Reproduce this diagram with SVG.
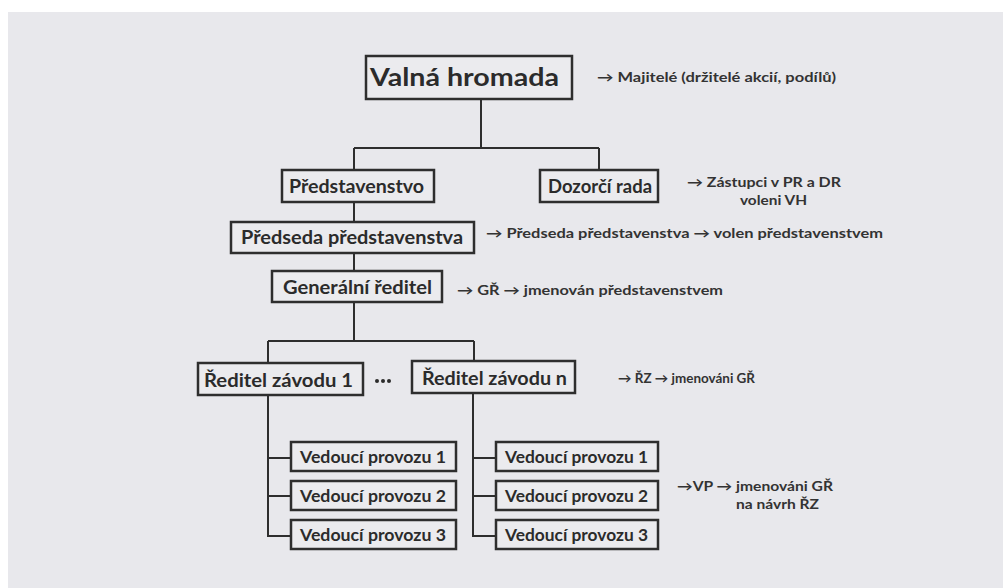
<svg xmlns="http://www.w3.org/2000/svg" width="1003" height="588" viewBox="0 0 1003 588">
  <style>
    .box { fill: #ebebee; stroke: #2e2e2e; stroke-width: 2.5; }
    .lbl { font-family: Lato, "Liberation Sans", "DejaVu Sans", sans-serif; font-weight: bold; fill: #2b2b2b; }
    .note { font-family: Lato, "Liberation Sans", "DejaVu Sans", sans-serif; font-weight: bold; font-size: 13px; fill: #333; }
    .wire { fill: none; stroke: #2e2e2e; stroke-width: 2; }
  </style>
  <!-- paper -->
  <rect x="0" y="0" width="1003" height="588" fill="#ffffff"/>
  <rect x="8" y="12" width="995" height="576" fill="#e8e8ec"/>

  <!-- connectors -->
  <g id="connectors" class="wire">
    <path d="M481 98 V148 M354 148 H599 M354 148 V170 M599 148 V170"/>
    <path d="M354 202 V222"/>
    <path d="M354 253 V271"/>
    <path d="M354 302 V341 M268 341 H474 M268 341 V363 M474 341 V361"/>
    <path d="M268 395 V536 H291 M268 458 H291 M268 496 H291"/>
    <path d="M473 393 V536 H496 M473 458 H496 M473 496 H496"/>
  </g>

  <g id="valna-hromada">
    <rect class="box" x="366" y="56" width="206" height="43"/>
    <text class="lbl" x="370" y="86" font-size="24" textLength="189" lengthAdjust="spacingAndGlyphs">Valná hromada</text>
  </g>
  <g id="predstavenstvo">
    <rect class="box" x="282" y="170" width="152" height="32"/>
    <text class="lbl" x="289" y="193" font-size="19" textLength="135" lengthAdjust="spacingAndGlyphs">Představenstvo</text>
  </g>
  <g id="dozorci-rada">
    <rect class="box" x="540" y="170" width="118" height="32"/>
    <text class="lbl" x="548" y="193" font-size="19" textLength="104" lengthAdjust="spacingAndGlyphs">Dozorčí rada</text>
  </g>
  <g id="predseda">
    <rect class="box" x="231" y="222" width="243" height="31"/>
    <text class="lbl" x="241" y="244" font-size="19" textLength="222" lengthAdjust="spacingAndGlyphs">Předseda představenstva</text>
  </g>
  <g id="generalni-reditel">
    <rect class="box" x="272" y="271" width="170" height="31"/>
    <text class="lbl" x="283" y="294" font-size="19" textLength="149" lengthAdjust="spacingAndGlyphs">Generální ředitel</text>
  </g>
  <g id="reditel-zavodu-1">
    <rect class="box" x="198" y="363" width="165" height="32"/>
    <text class="lbl" x="204" y="387" font-size="19" textLength="149" lengthAdjust="spacingAndGlyphs">Ředitel závodu 1</text>
  </g>
  <g id="dots">
    <circle cx="377" cy="381" r="2" fill="#2b2b2b"/>
    <circle cx="383" cy="381" r="2" fill="#2b2b2b"/>
    <circle cx="389" cy="381" r="2" fill="#2b2b2b"/>
  </g>
  <g id="reditel-zavodu-n">
    <rect class="box" x="412" y="361" width="163" height="32"/>
    <text class="lbl" x="422" y="385" font-size="19" textLength="145" lengthAdjust="spacingAndGlyphs">Ředitel závodu n</text>
  </g>

  <g id="vp-left-1">
    <rect class="box" x="291" y="442" width="165" height="29"/>
    <text class="lbl" x="300" y="463" font-size="17" textLength="146" lengthAdjust="spacingAndGlyphs">Vedoucí provozu 1</text>
  </g>
  <g id="vp-left-2">
    <rect class="box" x="291" y="481" width="165" height="29"/>
    <text class="lbl" x="300" y="502" font-size="17" textLength="146" lengthAdjust="spacingAndGlyphs">Vedoucí provozu 2</text>
  </g>
  <g id="vp-left-3">
    <rect class="box" x="291" y="520" width="165" height="29"/>
    <text class="lbl" x="300" y="541" font-size="17" textLength="146" lengthAdjust="spacingAndGlyphs">Vedoucí provozu 3</text>
  </g>
  <g id="vp-right-1">
    <rect class="box" x="496" y="442" width="162" height="29"/>
    <text class="lbl" x="505" y="463" font-size="17" textLength="143" lengthAdjust="spacingAndGlyphs">Vedoucí provozu 1</text>
  </g>
  <g id="vp-right-2">
    <rect class="box" x="496" y="481" width="162" height="29"/>
    <text class="lbl" x="505" y="502" font-size="17" textLength="143" lengthAdjust="spacingAndGlyphs">Vedoucí provozu 2</text>
  </g>
  <g id="vp-right-3">
    <rect class="box" x="496" y="520" width="162" height="29"/>
    <text class="lbl" x="505" y="541" font-size="17" textLength="143" lengthAdjust="spacingAndGlyphs">Vedoucí provozu 3</text>
  </g>

  <!-- side notes -->
  <g id="notes">
    <text class="note" x="597" y="82" textLength="239" lengthAdjust="spacingAndGlyphs">→ Majitelé (držitelé akcií, podílů)</text>
    <text class="note" x="687" y="187" textLength="154" lengthAdjust="spacingAndGlyphs">→ Zástupci v PR a DR</text>
    <text class="note" x="740" y="205" textLength="67" lengthAdjust="spacingAndGlyphs">voleni VH</text>
    <text class="note" x="486" y="238" textLength="397" lengthAdjust="spacingAndGlyphs">→ Předseda představenstva → volen  představenstvem</text>
    <text class="note" x="457" y="295" textLength="266" lengthAdjust="spacingAndGlyphs">→ GŘ → jmenován představenstvem</text>
    <text class="note" x="618" y="383" textLength="137" lengthAdjust="spacingAndGlyphs">→ ŘZ → jmenováni GŘ</text>
    <text class="note" x="677" y="491" textLength="156" lengthAdjust="spacingAndGlyphs">→VP → jmenováni GŘ</text>
    <text class="note" x="736" y="509" textLength="83" lengthAdjust="spacingAndGlyphs">na návrh ŘZ</text>
  </g>
</svg>
